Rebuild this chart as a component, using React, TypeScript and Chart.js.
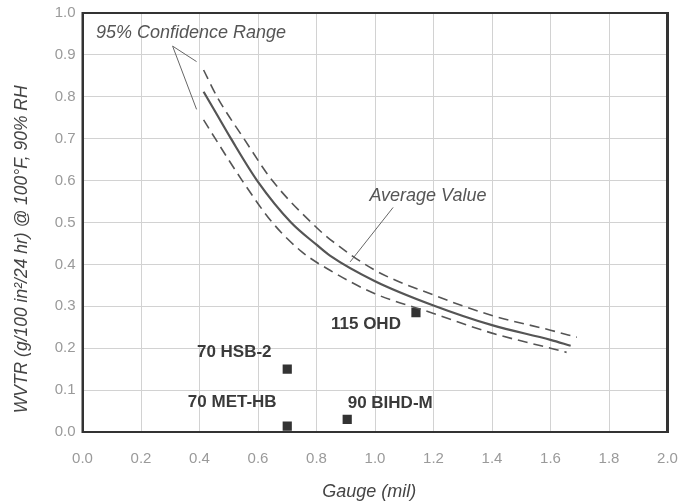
import React, { useEffect, useRef } from "react";
import { Chart, registerables } from "chart.js";

Chart.register(...registerables);

// ---- data ----
const avgX = [0.414, 0.46, 0.506, 0.6, 0.713, 0.8, 0.846, 1.0, 1.2, 1.4, 1.6, 1.669];
const avgY = [0.812, 0.757, 0.702, 0.597, 0.5, 0.447, 0.421, 0.36, 0.302, 0.255, 0.22, 0.206];

const upperX = [0.414, 0.46, 0.552, 0.649, 0.8, 0.846, 1.0, 1.2, 1.4, 1.6, 1.69];
const upperY = [0.864, 0.8, 0.7, 0.6, 0.488, 0.46, 0.386, 0.327, 0.278, 0.243, 0.226];

const lowerX = [0.414, 0.454, 0.546, 0.649, 0.75, 0.846, 1.0, 1.2, 1.4, 1.6, 1.655];
const lowerY = [0.745, 0.7, 0.6, 0.5, 0.43, 0.386, 0.33, 0.283, 0.236, 0.2, 0.19];

const sampleNames = ["70 HSB-2", "70 MET-HB", "90 BIHD-M", "115 OHD"];
const sampleX = [0.7, 0.7, 0.905, 1.14];
const sampleY = [0.15, 0.014, 0.03, 0.285];

const xTicks = [0, 0.2, 0.4, 0.6, 0.8, 1.0, 1.2, 1.4, 1.6, 1.8, 2.0];
const yTicks = [0, 0.1, 0.2, 0.3, 0.4, 0.5, 0.6, 0.7, 0.8, 0.9, 1.0];

const xTitle = "Gauge (mil)";
const yTitle = "WVTR (g/100 in\u00B2/24 hr) @ 100\u00B0F, 90% RH";

// annotation texts and pointer lines (data coordinates)
const confText = "95% Confidence Range";
const confTextAt = { x: 0.371, y: 0.952 };
const confPointers = [
  { x1: 0.308, y1: 0.921, x2: 0.39, y2: 0.884 },
  { x1: 0.308, y1: 0.921, x2: 0.39, y2: 0.77 },
];
const avgText = "Average Value";
const avgTextAt = { x: 1.181, y: 0.563 };
const avgPointer = { x1: 1.062, y1: 0.536, x2: 0.915, y2: 0.406 };

// label offsets in px relative to each marker (layout, not data)
const labelOffsets = [
  { dx: -53, dy: -17 },
  { dx: -55, dy: -24 },
  { dx: 43, dy: -16 },
  { dx: -50, dy: 12 },
];

const FONT = "'Liberation Sans', Arial, Helvetica, sans-serif";
const pts = (xs: number[], ys: number[]) => xs.map((x, i) => ({ x, y: ys[i] }));

const annotPlugin = {
  id: "annot",
  afterDatasetsDraw(chart: any) {
    const { ctx, chartArea, scales } = chart;
    const xs = scales.x;
    const ys = scales.y;
    ctx.save();
    // frame
    ctx.strokeStyle = "#333";
    ctx.lineWidth = 2;
    ctx.strokeRect(chartArea.left, chartArea.top, chartArea.right - chartArea.left, chartArea.bottom - chartArea.top);
    ctx.lineWidth = 3;
    ctx.beginPath();
    ctx.moveTo(chartArea.right, chartArea.top - 1);
    ctx.lineTo(chartArea.right, chartArea.bottom + 1);
    ctx.stroke();

    // pointer lines
    ctx.strokeStyle = "#666";
    ctx.lineWidth = 1;
    const line = (p: any) => {
      ctx.beginPath();
      ctx.moveTo(xs.getPixelForValue(p.x1), ys.getPixelForValue(p.y1));
      ctx.lineTo(xs.getPixelForValue(p.x2), ys.getPixelForValue(p.y2));
      ctx.stroke();
    };
    confPointers.forEach(line);
    line(avgPointer);

    // italic annotation texts
    ctx.fillStyle = "#555";
    ctx.font = `italic 18px ${FONT}`;
    ctx.textAlign = "center";
    ctx.textBaseline = "middle";
    ctx.fillText(confText, xs.getPixelForValue(confTextAt.x), ys.getPixelForValue(confTextAt.y));
    ctx.fillText(avgText, xs.getPixelForValue(avgTextAt.x), ys.getPixelForValue(avgTextAt.y));

    // marker labels
    ctx.fillStyle = "#3a3a3a";
    ctx.font = `bold 17px ${FONT}`;
    sampleNames.forEach((name, i) => {
      const px = xs.getPixelForValue(sampleX[i]) + labelOffsets[i].dx;
      const py = ys.getPixelForValue(sampleY[i]) + labelOffsets[i].dy;
      ctx.fillText(name, px, py);
    });

    // axis titles
    ctx.fillStyle = "#444";
    ctx.font = `italic 18px ${FONT}`;
    ctx.fillText(xTitle, chartArea.left + (chartArea.right - chartArea.left) * 0.49, chart.height - 11);
    ctx.translate(22, chartArea.top + (chartArea.bottom - chartArea.top) * 0.564);
    ctx.rotate(-Math.PI / 2);
    ctx.font = `italic 17.5px ${FONT}`;
    ctx.fillText(yTitle, 0, 0);
    ctx.restore();
  },
};

export default function App() {
  const ref = useRef<HTMLCanvasElement>(null);
  useEffect(() => {
    if (!ref.current) return;
    const lineStyle = {
      borderColor: "#555",
      pointRadius: 0,
      showLine: true,
      fill: false,
      cubicInterpolationMode: "monotone" as const,
    };
    const chart = new Chart(ref.current, {
      type: "scatter",
      data: {
        datasets: [
          { ...lineStyle, label: "Upper", data: pts(upperX, upperY), borderWidth: 1.6, borderDash: [10, 6] },
          { ...lineStyle, label: "Average", data: pts(avgX, avgY), borderWidth: 2.2 },
          { ...lineStyle, label: "Lower", data: pts(lowerX, lowerY), borderWidth: 1.6, borderDash: [10, 6] },
          {
            label: "Samples",
            data: pts(sampleX, sampleY),
            pointStyle: "rect",
            pointRadius: 6.5,
            backgroundColor: "#333",
            borderColor: "#333",
            borderWidth: 0,
            showLine: false,
          },
        ],
      },
      options: {
        animation: false,
        responsive: true,
        maintainAspectRatio: false,
        layout: { padding: { top: 13, right: 11.5, bottom: 0, left: 0 } },
        plugins: { legend: { display: false }, tooltip: { enabled: false } },
        scales: {
          x: {
            type: "linear",
            min: 0,
            max: 2,
            afterBuildTicks: (s: any) => {
              s.ticks = xTicks.map((v) => ({ value: v }));
            },
            afterFit: (s: any) => {
              s.height = 71;
              s.paddingLeft = 0;
              s.paddingRight = 0;
            },
            ticks: {
              callback: (v: any) => Number(v).toFixed(1),
              color: "#9a9a9a",
              font: { family: FONT, size: 15 },
              padding: 18,
              maxRotation: 0,
            },
            grid: { color: "#d2d2d2", lineWidth: 1, drawTicks: false },
            border: { display: true, color: "#333", width: 2 },
            title: { display: false },
          },
          y: {
            type: "linear",
            min: 0,
            max: 1,
            afterBuildTicks: (s: any) => {
              s.ticks = yTicks.map((v) => ({ value: v }));
            },
            afterFit: (s: any) => {
              s.width = 82.5;
              s.paddingTop = 0;
              s.paddingBottom = 0;
            },
            ticks: {
              callback: (v: any) => Number(v).toFixed(1),
              color: "#9a9a9a",
              font: { family: FONT, size: 15 },
              padding: 7,
            },
            grid: { color: "#d2d2d2", lineWidth: 1, drawTicks: false },
            border: { display: true, color: "#333", width: 2 },
            title: { display: false },
          },
        },
      },
      plugins: [annotPlugin],
    });
    return () => chart.destroy();
  }, []);

  return (
    <div style={{ position: "fixed", left: 0, top: 0, width: 679, height: 503, background: "#fff" }}>
      <canvas ref={ref} />
    </div>
  );
}
